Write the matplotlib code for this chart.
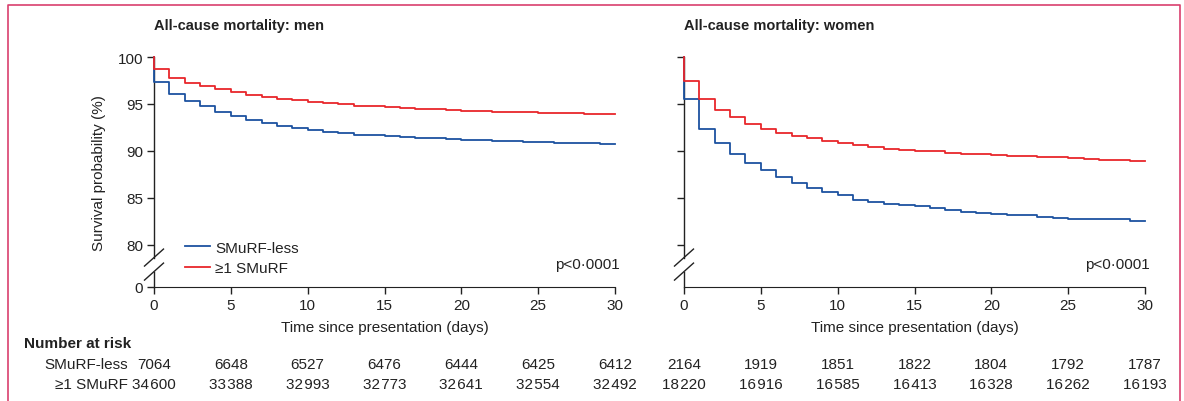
import matplotlib
matplotlib.use("Agg")
import matplotlib.pyplot as plt
import matplotlib.transforms as mtransforms
from matplotlib.lines import Line2D

plt.rcParams['font.family'] = ['Liberation Sans Narrow', 'Liberation Sans', 'DejaVu Sans']
plt.rcParams['font.size'] = 10.5
plt.rcParams['text.color'] = '#222222'
plt.rcParams['axes.labelcolor'] = '#222222'
plt.rcParams['xtick.color'] = '#222222'
plt.rcParams['ytick.color'] = '#222222'

# survival (%) in each day interval [d, d+1)
days = list(range(31))
men_less = [97.3, 96.06, 95.35, 94.75, 94.1, 93.7, 93.33, 92.98, 92.7, 92.4,
            92.2, 92.0, 91.9, 91.74, 91.67, 91.6, 91.5, 91.42, 91.35, 91.25,
            91.2, 91.15, 91.1, 91.05, 91.0, 90.95, 90.9, 90.85, 90.82, 90.76]
men_smurf = [98.69, 97.8, 97.27, 96.88, 96.56, 96.24, 95.99, 95.78, 95.57, 95.39,
             95.25, 95.07, 94.97, 94.82, 94.75, 94.64, 94.57, 94.5, 94.43, 94.36,
             94.29, 94.25, 94.2, 94.15, 94.12, 94.08, 94.04, 94.0, 93.96, 93.92]
women_less = [95.53, 92.34, 90.85, 89.68, 88.72, 87.94, 87.23, 86.63, 86.06, 85.6,
              85.32, 84.82, 84.54, 84.4, 84.26, 84.15, 83.94, 83.69, 83.5, 83.4,
              83.33, 83.23, 83.16, 83.0, 82.9, 82.8, 82.73, 82.73, 82.73, 82.6]
women_smurf = [97.48, 95.5, 94.4, 93.6, 92.9, 92.34, 91.95, 91.63, 91.35, 91.06,
               90.82, 90.64, 90.39, 90.21, 90.1, 90.03, 89.96, 89.82, 89.72, 89.65,
               89.57, 89.5, 89.43, 89.36, 89.33, 89.22, 89.15, 89.08, 89.0, 88.94]

risk_days = [0, 5, 10, 15, 20, 25, 30]
men_risk_less = ["7064", "6648", "6527", "6476", "6444", "6425", "6412"]
men_risk_smurf = ["34\u200a600", "33\u200a388", "32\u200a993", "32\u200a773",
                  "32\u200a641", "32\u200a554", "32\u200a492"]
women_risk_less = ["2164", "1919", "1851", "1822", "1804", "1792", "1787"]
women_risk_smurf = ["18\u200a220", "16\u200a916", "16\u200a585", "16\u200a413",
                    "16\u200a328", "16\u200a262", "16\u200a193"]

titles = ["All-cause mortality: men", "All-cause mortality: women"]
group_names = ["SMuRF-less", "\u22651 SMuRF"]
BLUE = '#1c52a0'
RED = '#e8262b'
ZERO_POS = 75.53   # where "0" sits below the axis break

W, H = 1184, 402
fig = plt.figure(figsize=(W / 100, H / 100), dpi=100)

def px(x0, y0, x1, y1):
    return [x0 / W, 1 - y1 / H, (x1 - x0) / W, (y1 - y0) / H]

axes = [fig.add_axes(px(154, 58, 615, 288)), fig.add_axes(px(684, 58, 1145, 288))]
panels = [(men_less, men_smurf, men_risk_less, men_risk_smurf),
          (women_less, women_smurf, women_risk_less, women_risk_smurf)]

for i, (ax, (s_less, s_smurf, r_less, r_smurf)) in enumerate(zip(axes, panels)):
    for vals, col, name in [(s_less, BLUE, group_names[0]), (s_smurf, RED, group_names[1])]:
        t = [0] + days
        y = [100] + vals + [vals[-1]]
        ax.plot(t, y, drawstyle='steps-post', color=col, lw=1.3, label=name,
                clip_on=False, zorder=3)
    ax.set_xlim(0, 30)
    ax.set_ylim(ZERO_POS, 100)
    ax.set_xticks(risk_days)
    if i == 0:
        ax.set_yticks([ZERO_POS, 80, 85, 90, 95, 100])
        ax.set_yticklabels(["0", "80", "85", "90", "95", "100"])
        ax.set_ylabel("Survival probability (%)", labelpad=8, fontsize=11)
    else:
        ax.set_yticks([80, 85, 90, 95, 100])
        ax.set_yticklabels([])
    ax.tick_params(direction='out', length=5, width=1, labelsize=11, pad=3)
    for s in ['top', 'right', 'left']:
        ax.spines[s].set_visible(False)
    ax.spines['bottom'].set_color('#222222')
    ax.set_xlabel("Time since presentation (days)", labelpad=6, fontsize=11)
    ax.set_title(titles[i], loc='left', fontweight='bold', fontsize=10.5, pad=20)

    # broken left spine with double slash
    gap_top, gap_bot = 0.128, 0.067
    ax.add_line(Line2D([0, 0], [gap_top, 1], transform=ax.transAxes, color='#222222',
                       lw=1, clip_on=False))
    ax.add_line(Line2D([0, 0], [0, gap_bot], transform=ax.transAxes, color='#222222',
                       lw=1, clip_on=False))
    dx, dy = 0.0206, 0.037
    for yc in (gap_top, gap_bot):
        ax.add_line(Line2D([-dx, dx], [yc - dy, yc + dy], transform=ax.transAxes,
                           color='#222222', lw=1, clip_on=False))

    ax.text(1.01, 0.1, "p<0\u00b70001", transform=ax.transAxes, ha='right',
            va='center', fontsize=11)

    # number at risk rows
    tr = mtransforms.blended_transform_factory(ax.transData, fig.transFigure)
    for row, yy in [(r_less, 1 - 365 / H), (r_smurf, 1 - 385 / H)]:
        for d, txt in zip(risk_days, row):
            ax.text(d, yy, txt, transform=tr, ha='center', va='center', fontsize=11)

axes[0].legend(loc='upper left', bbox_to_anchor=(0.055, 0.228), frameon=False,
               handlelength=1.6, handletextpad=0.35, labelspacing=0.42, fontsize=11,
               borderaxespad=0)

fig.text(24 / W, 1 - 344 / H, "Number at risk", fontweight='bold', fontsize=11,
         ha='left', va='center')
for name, yy in [(group_names[0], 365), (group_names[1], 385)]:
    fig.text(128 / W, 1 - yy / H, name, ha='right', va='center', fontsize=11)

# frame around the figure
fig.add_artist(Line2D([8 / W, 8 / W, 1180 / W, 1180 / W], [0, 1 - 6 / H, 1 - 6 / H, 0],
                      color='#d9406e', lw=1.2))

fig.savefig("out.png", dpi=100)
